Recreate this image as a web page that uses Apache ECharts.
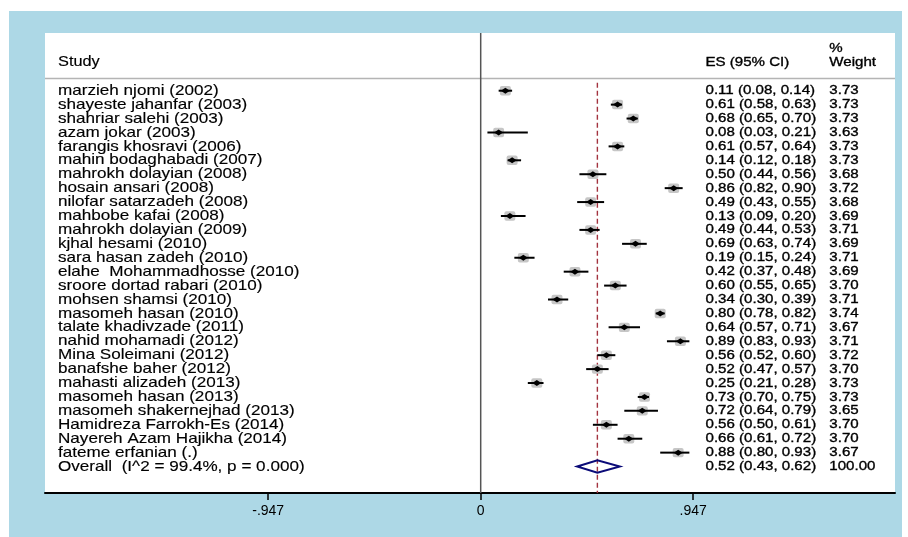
<!DOCTYPE html>
<html>
<head>
<meta charset="utf-8">
<script src="https://cdn.jsdelivr.net/npm/echarts@6/dist/echarts.min.js"></script>
<style>
html,body{margin:0;padding:0;background:#fff;}
#chart{width:908px;height:537px;}
</style>
</head>
<body>
<div id="chart"></div>
<script>
// ---------------- data ----------------
const studies = [
  'marzieh njomi (2002)', 'shayeste jahanfar (2003)', 'shahriar salehi (2003)', 'azam jokar (2003)',
  'farangis khosravi (2006)', 'mahin bodaghabadi (2007)', 'mahrokh dolayian (2008)', 'hosain ansari (2008)',
  'nilofar satarzadeh (2008)', 'mahbobe kafai (2008)', 'mahrokh dolayian (2009)', 'kjhal hesami (2010)',
  'sara hasan zadeh (2010)', 'elahe  Mohammadhosse (2010)', 'sroore dortad rabari (2010)', 'mohsen shamsi (2010)',
  'masomeh hasan (2010)', 'talate khadivzade (2011)', 'nahid mohamadi (2012)', 'Mina Soleimani (2012)',
  'banafshe baher (2012)', 'mahasti alizadeh (2013)', 'masomeh hasan (2013)', 'masomeh shakernejhad (2013)',
  'Hamidreza Farrokh-Es (2014)', 'Nayereh Azam Hajikha (2014)', 'fateme erfanian (.)'
];
const es = [0.11, 0.61, 0.68, 0.08, 0.61, 0.14, 0.50, 0.86, 0.49, 0.13, 0.49, 0.69, 0.19, 0.42, 0.60, 0.34,
            0.80, 0.64, 0.89, 0.56, 0.52, 0.25, 0.73, 0.72, 0.56, 0.66, 0.88];
const ciLow = [0.08, 0.58, 0.65, 0.03, 0.57, 0.12, 0.44, 0.82, 0.43, 0.09, 0.44, 0.63, 0.15, 0.37, 0.55, 0.30,
               0.78, 0.57, 0.83, 0.52, 0.47, 0.21, 0.70, 0.64, 0.50, 0.61, 0.80];
const ciHigh = [0.14, 0.63, 0.70, 0.21, 0.64, 0.18, 0.56, 0.90, 0.55, 0.20, 0.53, 0.74, 0.24, 0.48, 0.65, 0.39,
                0.82, 0.71, 0.93, 0.60, 0.57, 0.28, 0.75, 0.79, 0.61, 0.72, 0.93];
const weights = [3.73, 3.73, 3.73, 3.63, 3.73, 3.73, 3.68, 3.72, 3.68, 3.69, 3.71, 3.69, 3.71, 3.69, 3.70, 3.71,
                 3.74, 3.67, 3.71, 3.72, 3.70, 3.73, 3.73, 3.65, 3.70, 3.70, 3.67];
const overallLabel = 'Overall  (I^2 = 99.4%, p = 0.000)';
const overallEs = 0.52, overallLow = 0.43, overallHigh = 0.62, overallWeight = 100.00;
const headers = ['Study', 'ES (95% CI)', '%', 'Weight'];
const xTicks = [-0.947, 0, 0.947];
const xTickLabels = ['-.947', '0', '.947'];

// ---------------- layout / style ----------------
const FONT = '"Liberation Sans", Arial, Helvetica, sans-serif';
const NAME_X = 13;      // px from grid left
const ES_X = 660.5;     // px from grid left
const W_X = 784.3;      // px from grid left
const NAME_SIZE = 15, NAME_SCALE = 1.14;
const ES_SIZE = 13, ES_SCALE = 1.16;
const REF_W = 3.73;
const fmt = v => v.toFixed(2);

function txt(x, y, s, size, scale, heavy) {
  return {
    type: 'text', x: x, y: y, scaleX: scale, silent: true,
    style: {
      text: s, fill: '#000', fontSize: size, fontFamily: FONT, align: 'left', verticalAlign: 'middle',
      stroke: '#000', lineWidth: heavy || 0.15
    }
  };
}

const studyData = studies.map((n, i) => [i, es[i], ciLow[i], ciHigh[i], weights[i]]);
const nRows = studies.length;

const chart = echarts.init(document.getElementById('chart'), null, { renderer: 'canvas' });
const option = {
  animation: false,
  backgroundColor: '#fff',
  graphic: [{
    type: 'rect', z: -10, silent: true,
    shape: { x: 9, y: 11, width: 893, height: 526 },
    style: { fill: '#add8e6' }
  }],
  grid: {
    left: 45, right: 13, top: 33, bottom: 44,
    show: true, backgroundColor: '#fff', borderWidth: 0
  },
  xAxis: {
    type: 'value', min: -1.9416, max: 1.8463,
    axisLine: { show: true, onZero: false, lineStyle: { color: '#000', width: 2 } },
    axisTick: { show: true, customValues: xTicks, length: 7, lineStyle: { color: '#000', width: 1.5 } },
    axisLabel: {
      show: true, customValues: xTicks, margin: 11,
      formatter: v => { const k = xTicks.findIndex(t => Math.abs(t - v) < 1e-6); return k >= 0 ? xTickLabels[k] : ''; },
      color: '#000', fontSize: 14, fontFamily: FONT
    },
    splitLine: { show: false }
  },
  yAxis: {
    type: 'value', inverse: true, min: -4.145, max: 28.9,
    show: false
  },
  series: [
    // reference lines and header
    {
      type: 'custom', silent: true, z: 1,
      data: [[0]],
      renderItem: function (params, api) {
        const cs = params.coordSys;
        const top = cs.y, bottom = cs.y + cs.height;
        const pZero = api.coord([0, 0]);
        const sepY = api.coord([0, -0.876])[1];
        const pOv = api.coord([overallEs, -0.575]);
        const hY = api.coord([0, -2.06])[1];
        const pctY = api.coord([0, -3.05])[1];
        return {
          type: 'group', children: [
            { type: 'line', shape: { x1: cs.x, y1: sepY, x2: cs.x + cs.width, y2: sepY },
              style: { stroke: '#b4b4b4', lineWidth: 1.5 } },
            { type: 'line', shape: { x1: pZero[0], y1: top, x2: pZero[0], y2: bottom },
              style: { stroke: '#555', lineWidth: 1.5 } },
            { type: 'line', shape: { x1: pOv[0], y1: pOv[1], x2: pOv[0], y2: bottom },
              style: { stroke: '#a3333f', lineWidth: 1.4, lineDash: [5, 3] } },
            txt(cs.x + NAME_X, hY, headers[0], 14, 1.165),
            txt(cs.x + ES_X, hY, headers[1], ES_SIZE, ES_SCALE, 0.35),
            txt(cs.x + W_X, pctY, headers[2], ES_SIZE, ES_SCALE, 0.35),
            txt(cs.x + W_X, hY, headers[3], ES_SIZE, ES_SCALE, 0.35)
          ]
        };
      }
    },
    // studies
    {
      type: 'custom', silent: true, z: 3,
      data: studyData,
      renderItem: function (params, api) {
        const cs = params.coordSys;
        const i = params.dataIndex;
        const r = api.value(0);
        const pE = api.coord([api.value(1), r]);
        const pL = api.coord([api.value(2), r]);
        const pH = api.coord([api.value(3), r]);
        const f = Math.sqrt(api.value(4) / REF_W);
        const bw = 11 * f, bh = 9.5 * f;
        const y = pE[1];
        const label = fmt(es[i]) + ' (' + fmt(ciLow[i]) + ', ' + fmt(ciHigh[i]) + ')';
        return {
          type: 'group', children: [
            { type: 'rect', shape: { x: pE[0] - bw / 2, y: y - bh / 2, width: bw, height: bh, r: 2 },
              style: { fill: '#c6c6c6' } },
            { type: 'line', shape: { x1: pL[0], y1: y, x2: pH[0], y2: y },
              style: { stroke: '#000', lineWidth: 2 } },
            { type: 'polygon', shape: { points: [[pE[0] - 4.5, y], [pE[0], y - 3], [pE[0] + 4.5, y], [pE[0], y + 3]] },
              style: { fill: '#000' } },
            txt(cs.x + NAME_X, y, studies[i], NAME_SIZE, NAME_SCALE),
            txt(cs.x + ES_X, y, label, ES_SIZE, ES_SCALE, 0.35),
            txt(cs.x + W_X, y, fmt(weights[i]), ES_SIZE, ES_SCALE, 0.35)
          ]
        };
      }
    },
    // overall
    {
      type: 'custom', silent: true, z: 4,
      data: [[nRows, overallEs, overallLow, overallHigh, overallWeight]],
      renderItem: function (params, api) {
        const cs = params.coordSys;
        const r = api.value(0);
        const pE = api.coord([api.value(1), r]);
        const pL = api.coord([api.value(2), r]);
        const pH = api.coord([api.value(3), r]);
        const y = pE[1], hh = 6.2;
        const label = fmt(overallEs) + ' (' + fmt(overallLow) + ', ' + fmt(overallHigh) + ')';
        return {
          type: 'group', children: [
            { type: 'polygon', shape: { points: [[pL[0], y], [pE[0], y - hh], [pH[0], y], [pE[0], y + hh]] },
              style: { fill: 'rgba(0,0,0,0)', stroke: '#0b0b78', lineWidth: 2 } },
            txt(cs.x + NAME_X, y, overallLabel, NAME_SIZE, NAME_SCALE),
            txt(cs.x + ES_X, y, label, ES_SIZE, ES_SCALE, 0.35),
            txt(cs.x + W_X, y, fmt(overallWeight), ES_SIZE, ES_SCALE, 0.35)
          ]
        };
      }
    }
  ]
};
chart.setOption(option);
</script>
</body>
</html>
